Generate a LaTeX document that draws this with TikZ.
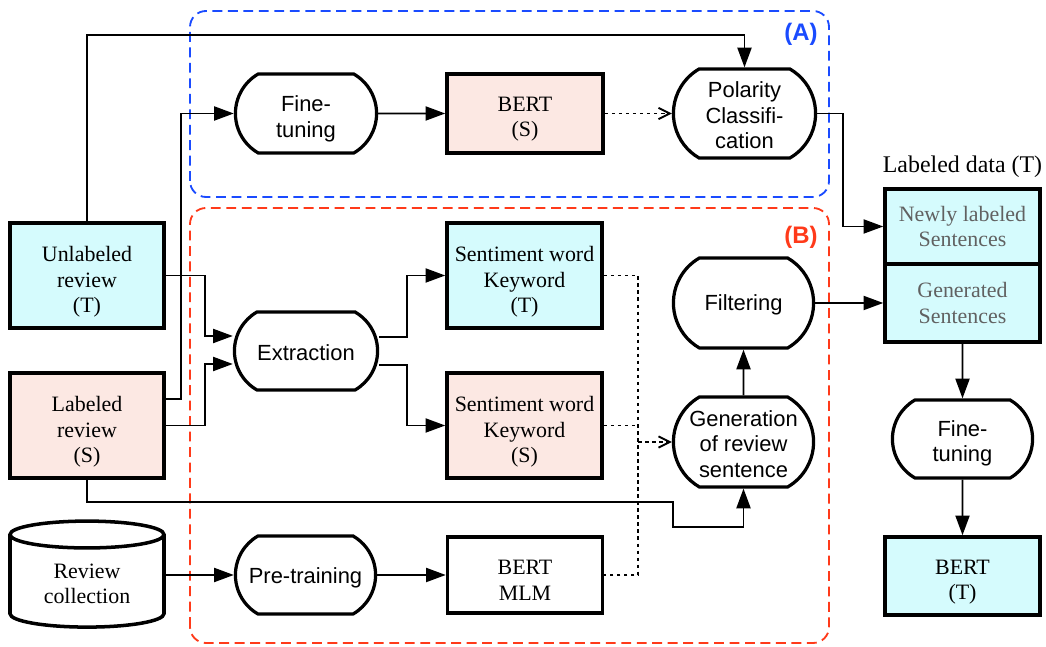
\documentclass[tikz,border=0pt]{standalone}
\usepackage{fontspec}
\setmainfont{Liberation Serif}
\setsansfont{Liberation Sans}
\usepackage{tikz}
\usetikzlibrary{shapes.geometric, shapes.misc, arrows.meta, calc}

\definecolor{cyanfill}{HTML}{D5FBFD}
\definecolor{salmonfill}{HTML}{FCE8E3}
\definecolor{groupblue}{HTML}{1A4BFF}
\definecolor{groupred}{HTML}{FF3A1A}
\newcommand{\diagfont}{\fontsize{15.6pt}{18pt}\selectfont}
% strut on the first line, pushes the text a bit down
\newcommand{\tstrut}[1]{\rule{0pt}{#1pt}}

\begin{document}
\begin{tikzpicture}[
        data/.style={draw, line width=2.5pt, minimum width=3.85cm, minimum height=2.625cm, align=center, font=\diagfont, inner sep=1pt},
        proc/.style={draw, fill=white, rounded rectangle, rounded rectangle arc length=120, line width=2.3pt, minimum width=3.6cm, minimum height=1.975cm, align=center, font=\sffamily\diagfont, inner sep=1pt},
        arr/.style={line width=1.3pt, -{Triangle[length=14pt, width=10pt]}},
        dotline/.style={line width=1.3pt, dash pattern=on 2.5pt off 2.5pt},
        dotarr/.style={dotline, -{Straight Barb[length=8pt, width=8pt]}},
        group/.style={line width=1.3pt, dash pattern=on 7pt off 4pt, rounded corners=0.4cm}
    ]
    \useasboundingbox (0,0) rectangle (26.15,16.175);

    % Groups (A) and (B)
    \draw[group, groupblue] (4.75,11.25) rectangle (20.725,15.9);
    \draw[group, groupred] (4.75,0.1) rectangle (20.725,10.975);
    \node[font=\sffamily\bfseries\fontsize{17pt}{19pt}\selectfont, text=groupblue] (tagA) at (20.025,15.325) {(A)};
    \node[font=\sffamily\bfseries\fontsize{17pt}{19pt}\selectfont, text=groupred] (tagB) at (20.025,10.25) {(B)};

    % Inputs - positioned with coordinates
    \node[data, fill=cyanfill] (unlab) at (2.175,9.2875) {\tstrut{20}Unlabeled\\review\\(T)};
    \node[data, fill=salmonfill] (lab) at (2.175,5.5375) {\tstrut{20}Labeled\\review\\(S)};
    \node[draw, cylinder, shape border rotate=90, aspect=0.28, line width=2.5pt, minimum width=3.85cm, minimum height=2.65cm, align=center, font=\diagfont] (coll) at (2.175,1.575) {Review\\collection};

    % Part (A)
    \node[proc] (ft1) at (7.65,13.3375) {\tstrut{19}Fine-\\tuning};
    \node[data, fill=salmonfill, minimum width=3.9cm, minimum height=1.975cm] (bertS) at (13.125,13.3375) {\tstrut{18}BERT\\(S)};
    \node[proc, minimum width=3.625cm, minimum height=2.225cm] (polar) at (18.6125,13.3375) {\tstrut{14}Polarity\\Classifi-\\cation};

    % Part (B)
    \node[proc, minimum width=3.65cm, minimum height=1.95cm] (extr) at (7.65,7.4) {\tstrut{14}Extraction};
    \node[data, fill=cyanfill, minimum width=3.875cm] (swT) at (13.1125,9.2875) {\tstrut{20}Sentiment word\\Keyword\\(T)};
    \node[data, fill=salmonfill, minimum width=3.875cm] (swS) at (13.1125,5.5375) {\tstrut{20}Sentiment word\\Keyword\\(S)};
    \node[proc, minimum width=3.575cm, minimum height=2.25cm] (filt) at (18.5875,8.6) {\tstrut{14}Filtering};
    \node[proc, minimum width=3.575cm, minimum height=2.25cm] (gen) at (18.5875,5.125) {\tstrut{14}Generation\\of review\\sentence};
    \node[proc, minimum width=3.575cm, minimum height=1.95cm] (pret) at (7.6375,1.8) {\tstrut{15}Pre-training};
    \node[data, minimum width=3.875cm, minimum height=1.9cm] (bertM) at (13.125,1.8) {\tstrut{18}BERT\\MLM};

    % Labeled data (T)
    \node[font=\fontsize{17pt}{19pt}\selectfont] (ldata) at (24.0625,12.0) {Labeled data (T)};
    \node[data, fill=cyanfill, text=black!62, minimum width=3.875cm, minimum height=1.875cm] (newl) at (24.0625,10.5125) {Newly labeled\\Sentences};
    \node[data, fill=cyanfill, text=black!62, minimum width=3.875cm, minimum height=1.95cm] (gens) at (24.0625,8.6) {Generated\\Sentences};
    \node[proc, minimum width=3.575cm, minimum height=1.95cm] (ft2) at (24.0625,5.2) {\tstrut{17}Fine-\\tuning};
    \node[data, fill=cyanfill, minimum width=3.875cm, minimum height=1.95cm] (bertT) at (24.0625,1.775) {\tstrut{19}BERT\\(T)};

    % Connectors
    \draw[arr] (unlab.north) |- ([yshift=0.8cm]polar.north) -- (polar.north);
    \draw[arr] ([yshift=0.66cm]lab.east) -- ++(0.375,0) |- (ft1.west);
    \draw[arr] (unlab.east) -- ++(0.975,0) |- ([yshift=0.375cm]extr.west);
    \draw[arr] (lab.east) -- ++(0.975,0) |- ([yshift=-0.325cm]extr.west);
    \draw[arr] ([yshift=0.35cm]extr.east) -- ++(0.7,0) |- (swT.west);
    \draw[arr] ([yshift=-0.35cm]extr.east) -- ++(0.7,0) |- (swS.west);
    \draw[arr] (ft1) -- (bertS);
    \draw[dotarr] (bertS) -- (polar);
    \draw[arr] (polar.east) -- ++(0.65,0) |- (newl.west);
    \draw[arr] (filt.east) -- (filt.east -| gens.west);
    \draw[arr] (gen) -- (filt);
    \draw[arr] (gens) -- (ft2);
    \draw[arr] (ft2) -- (bertT);
    \draw[arr] (coll.east |- pret.west) -- (pret.west);
    \draw[arr] (pret) -- (bertM);
    \coordinate (bend) at (16.825,3.625);
    \draw[arr] (lab.south) |- (bend) |- ([yshift=-0.95cm]gen.south) -- (gen.south);

    % Dotted inputs of the generation
    \coordinate (join) at (15.95,0);
    \draw[dotline] (swT.east) -- (swT.east -| join) |- (bertM.east);
    \draw[dotline] (swS.east) -- (swS.east -| join);
    \draw[dotarr] (gen.west -| join) -- (gen.west);

\end{tikzpicture}
\end{document}
